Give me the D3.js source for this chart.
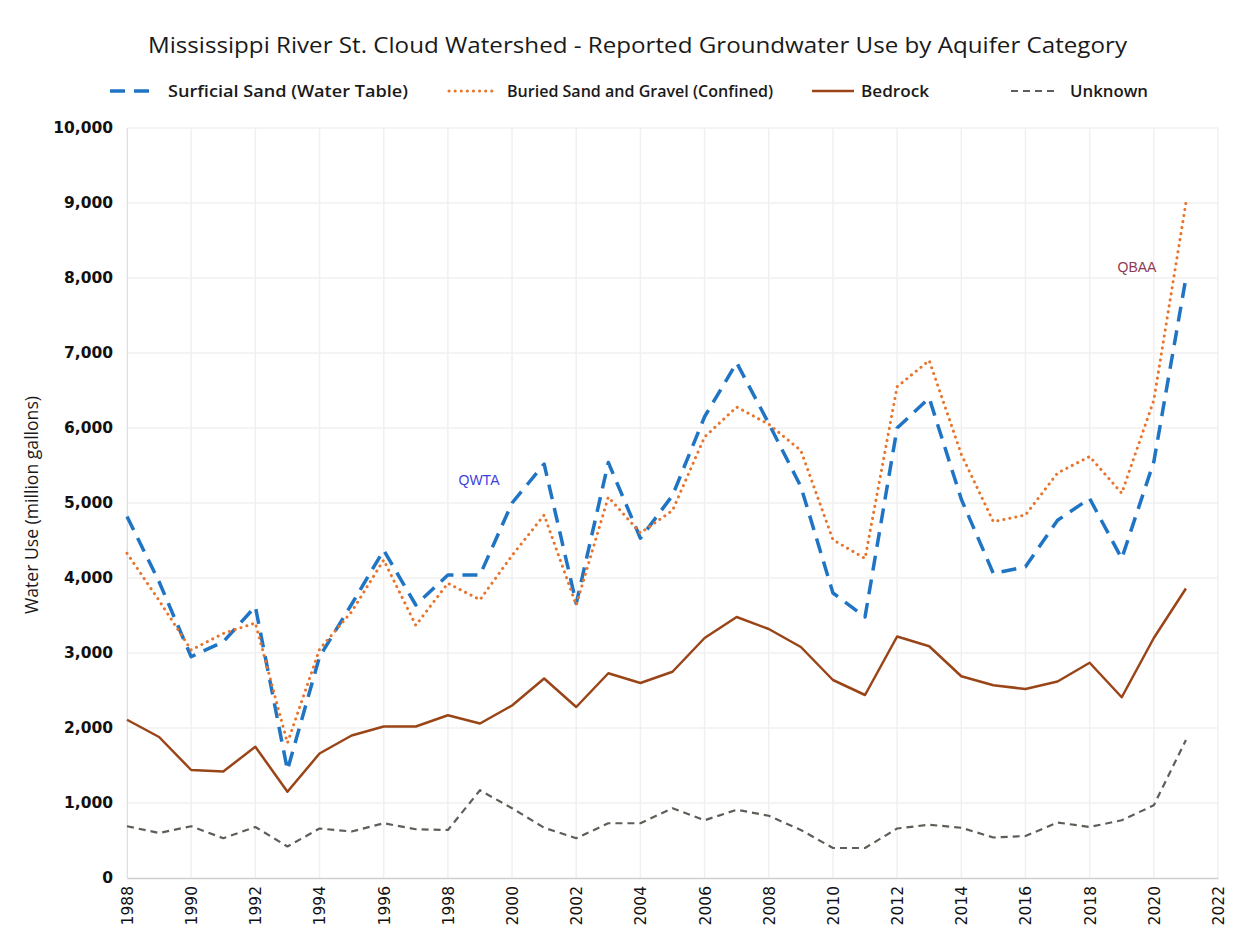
<!DOCTYPE html>
<html>
<head>
<meta charset="utf-8">
<script src="https://cdn.jsdelivr.net/npm/d3@7"></script>
<style>
  body { margin: 0; background: #fff; }
  svg { display: block; }
</style>
</head>
<body>
<div id="chart"></div>
<script>
// data (million gallons)
var years = [1988, 1989, 1990, 1991, 1992, 1993, 1994, 1995, 1996, 1997, 1998,
  1999, 2000, 2001, 2002, 2003, 2004, 2005, 2006, 2007, 2008, 2009, 2010,
  2011, 2012, 2013, 2014, 2015, 2016, 2017, 2018, 2019, 2020, 2021];

var surficial = [4820, 3950, 2950, 3150, 3620, 1440, 2950, 3650, 4370, 3640, 4040,
  4040, 5000, 5520, 3660, 5540, 4530, 5100, 6150, 6870, 6060, 5220, 3800,
  3480, 6000, 6400, 5050, 4060, 4150, 4770, 5060, 4260, 5550, 8000];

var buried = [4330, 3700, 3040, 3260, 3400, 1800, 3050, 3550, 4240, 3370, 3930,
  3710, 4300, 4840, 3640, 5080, 4600, 4900, 5880, 6280, 6050, 5700, 4510,
  4260, 6550, 6900, 5650, 4750, 4840, 5400, 5620, 5130, 6370, 9000];

var bedrock = [2110, 1880, 1440, 1420, 1750, 1150, 1660, 1900, 2020, 2020, 2170,
  2060, 2300, 2660, 2280, 2730, 2600, 2750, 3200, 3480, 3320, 3080, 2640,
  2440, 3220, 3090, 2690, 2570, 2520, 2620, 2870, 2410, 3200, 3860];

var unknown = [690, 600, 690, 530, 680, 420, 660, 620, 730, 650, 640,
  1170, 930, 670, 530, 730, 730, 930, 770, 910, 830, 640, 400,
  400, 660, 710, 670, 540, 560, 740, 680, 770, 970, 1840];

var seriesNames = ["Surficial Sand (Water Table)", "Buried Sand and Gravel (Confined)", "Bedrock", "Unknown"];
var yTicks = [0, 1000, 2000, 3000, 4000, 5000, 6000, 7000, 8000, 9000, 10000];
var xTicks = [1988, 1990, 1992, 1994, 1996, 1998, 2000, 2002, 2004, 2006, 2008,
  2010, 2012, 2014, 2016, 2018, 2020, 2022];

var titleText = "Mississippi River St. Cloud Watershed - Reported Groundwater Use by Aquifer Category";
var yTitle = "Water Use (million gallons)";

var width = 1233, height = 951;
var margin = {top: 128, right: 15, bottom: 73, left: 127};

var svg = d3.select("#chart").append("svg")
  .attr("width", width)
  .attr("height", height);

svg.append("rect").attr("width", width).attr("height", height).attr("fill", "#fff");

var x = d3.scaleLinear().domain([1988, 2022]).range([margin.left, width - margin.right]);
var y = d3.scaleLinear().domain([0, 10000]).range([height - margin.bottom, margin.top]);

// grid
svg.append("g").selectAll("line.h")
  .data(yTicks.slice(1)).enter().append("line")
  .attr("x1", x(1988)).attr("x2", x(2022))
  .attr("y1", function(d) { return y(d); }).attr("y2", function(d) { return y(d); })
  .attr("stroke", "#f0f0f0").attr("stroke-width", 1.5);

svg.append("g").selectAll("line.v")
  .data(xTicks).enter().append("line")
  .attr("x1", function(d) { return x(d); }).attr("x2", function(d) { return x(d); })
  .attr("y1", y(10000)).attr("y2", y(0))
  .attr("stroke", "#f0f0f0").attr("stroke-width", 1.5);

// axes
var yAxis = svg.append("g")
  .attr("transform", "translate(" + margin.left + ",0)")
  .call(d3.axisLeft(y).tickValues(yTicks).tickFormat(d3.format(",")).tickSize(0).tickPadding(14));
yAxis.select(".domain").attr("stroke", "#e0e0e0");
yAxis.selectAll("text")
  .attr("font-family", "DejaVu Sans, Verdana, sans-serif")
  .attr("font-size", 15.5)
  .attr("font-weight", "bold")
  .attr("fill", "#111");

var xAxis = svg.append("g")
  .attr("transform", "translate(0," + y(0) + ")")
  .call(d3.axisBottom(x).tickValues(xTicks).tickFormat(function(d) { return d; }).tickSize(0));
xAxis.select(".domain").attr("stroke", "#d0d0d0").attr("stroke-width", 1.5);
xAxis.selectAll("text")
  .attr("transform", "rotate(-90)")
  .attr("x", -8)
  .attr("y", 0)
  .attr("dy", "0.35em")
  .style("text-anchor", "end")
  .attr("font-family", "DejaVu Sans, Verdana, sans-serif")
  .attr("font-size", 15.5)
  .attr("fill", "#111");

// lines
var line = d3.line()
  .x(function(d, i) { return x(years[i]); })
  .y(function(d) { return y(d); });

var styles = [
  {data: surficial, color: "#1f74c4", w: 3.5, dash: "15,9", cap: "butt"},
  {data: buried, color: "#e8742c", w: 3, dash: "0.1,6", cap: "round"},
  {data: bedrock, color: "#9a4518", w: 2.5, dash: null, cap: "butt"},
  {data: unknown, color: "#5e5e58", w: 2.2, dash: "7,5", cap: "butt"}
];

[2, 3, 0, 1].forEach(function(k) {
  var s = styles[k];
  svg.append("path")
    .attr("d", line(s.data))
    .attr("fill", "none")
    .attr("stroke", s.color)
    .attr("stroke-width", s.w)
    .attr("stroke-dasharray", s.dash)
    .attr("stroke-linecap", s.cap)
    .attr("stroke-linejoin", "round");
});

// annotations
svg.append("text")
  .attr("x", 479).attr("y", 485)
  .attr("text-anchor", "middle")
  .attr("font-family", "Liberation Sans, Arial, sans-serif")
  .attr("font-size", 14)
  .attr("fill", "#3f3fe0")
  .text("QWTA");

svg.append("text")
  .attr("x", 1137).attr("y", 272)
  .attr("text-anchor", "middle")
  .attr("font-family", "Liberation Sans, Arial, sans-serif")
  .attr("font-size", 14)
  .attr("fill", "#8e3a55")
  .text("QBAA");

// title
svg.append("text")
  .attr("x", 148).attr("y", 53)
  .attr("font-family", "Open Sans, sans-serif")
  .attr("font-size", 21)
  .attr("fill", "#1a1a1a")
  .attr("textLength", 979)
  .attr("lengthAdjust", "spacingAndGlyphs")
  .text(titleText);

// y title
svg.append("text")
  .attr("transform", "translate(38,505) rotate(-90)")
  .attr("text-anchor", "middle")
  .attr("font-family", "Open Sans, sans-serif")
  .attr("font-size", 18)
  .attr("fill", "#1a1a1a")
  .attr("textLength", 218)
  .attr("lengthAdjust", "spacingAndGlyphs")
  .text(yTitle);

// legend
var legendPos = [
  {x: 110, tx: 168, tw: 240},
  {x: 449, tx: 507, tw: 266},
  {x: 812, tx: 861, tw: 68},
  {x: 1011, tx: 1070, tw: 78}
];
var ly = 91;
legendPos.forEach(function(p, i) {
  var s = styles[i];
  svg.append("line")
    .attr("x1", p.x).attr("x2", p.x + (i == 2 ? 42 : 48))
    .attr("y1", ly).attr("y2", ly)
    .attr("stroke", s.color)
    .attr("stroke-width", s.w)
    .attr("stroke-dasharray", s.dash)
    .attr("stroke-linecap", s.cap);
  svg.append("text")
    .attr("x", p.tx).attr("y", ly + 6)
    .attr("font-family", "Open Sans, sans-serif")
    .attr("font-size", 16)
    .attr("font-weight", 600)
    .attr("fill", "#1a1a1a")
    .attr("textLength", p.tw)
    .attr("lengthAdjust", "spacingAndGlyphs")
    .text(seriesNames[i]);
});
</script>
</body>
</html>
